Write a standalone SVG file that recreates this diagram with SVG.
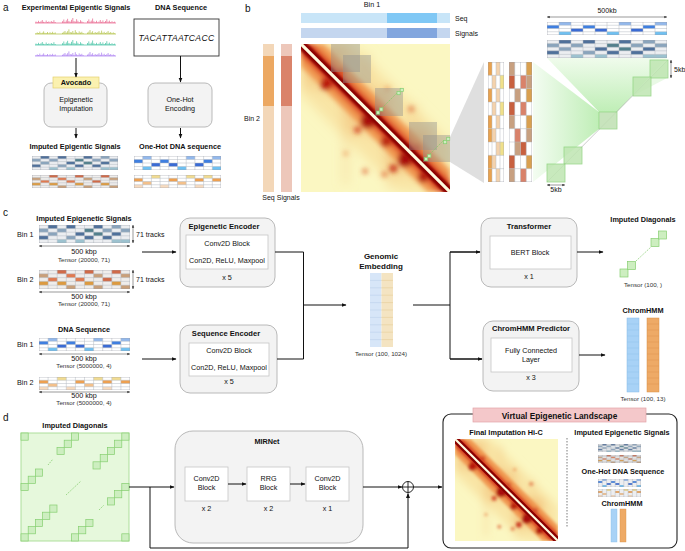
<svg xmlns="http://www.w3.org/2000/svg" width="685" height="551" viewBox="0 0 685 551">
<style>
text{font-family:"Liberation Sans",Arial,sans-serif;fill:#111}
.t{font-size:7.3px;font-weight:bold;text-anchor:middle}
.bt{font-size:7.6px;font-weight:bold;text-anchor:middle}
.r{font-size:7.2px;text-anchor:middle}
.s{font-size:6.2px;text-anchor:middle;fill:#333}
.lab{font-size:10px}
.box{fill:#f3f3f3;stroke:#a8a8a8;stroke-width:0.8}
.inb{fill:#fff;stroke:#c6c6c6;stroke-width:0.8}
.ln{fill:none;stroke:#111;stroke-width:1}
.ar{fill:none;stroke:#111;stroke-width:1;marker-end:url(#ah)}
.gsq{fill:#cdeec0;stroke:#86cf70;stroke-width:0.7}
.dim{fill:none;stroke:#333;stroke-width:0.5;marker-start:url(#dh);marker-end:url(#dh)}
.gd{fill:none;stroke:#7cc864;stroke-width:0.7;stroke-dasharray:1.5 1}
.ov{fill:#8e8e8e;opacity:0.42}
.gl{fill:none;stroke:#b4bac2;stroke-width:0.5}
.sig{fill:none;stroke-width:0.7}
</style>
<defs>
<marker id="ah" viewBox="0 0 10 10" refX="9" refY="5" markerWidth="5" markerHeight="5" orient="auto"><path d="M0,1 L10,5 L0,9 z" fill="#111"/></marker>
<marker id="dh" viewBox="0 0 10 10" refX="9" refY="5" markerWidth="6" markerHeight="6" orient="auto-start-reverse"><path d="M0,1 L10,5 L0,9 z" fill="#333"/></marker>
<filter id="bl" x="-20%" y="-20%" width="140%" height="140%"><feGaussianBlur stdDeviation="1.8"/></filter>
<filter id="bl3" x="-20%" y="-20%" width="140%" height="140%"><feGaussianBlur stdDeviation="4"/></filter>
<filter id="bl2" x="-10%" y="-10%" width="120%" height="120%"><feGaussianBlur stdDeviation="0.6"/></filter>
<clipPath id="hc"><rect width="100" height="100"/></clipPath>
<linearGradient id="gt" x1="0" y1="0" x2="0" y2="1"><stop offset="0" stop-color="#eefbea"/><stop offset="1" stop-color="#b8ecae"/></linearGradient>
<linearGradient id="gle" x1="0" y1="0" x2="1" y2="0"><stop offset="0" stop-color="#f2fcf0"/><stop offset="1" stop-color="#b8ecae"/></linearGradient>
<symbol id="hic" viewBox="0 0 100 100" preserveAspectRatio="none">
<g clip-path="url(#hc)">
<rect width="100" height="100" fill="#fbf7c2"/>
<g filter="url(#bl3)">
<polygon points="0,0 34,0 100,66 100,100 66,100 0,34" fill="#f8e2a0" opacity="0.85"/>
<rect x="0" y="0" width="30" height="30" fill="#f3c07a" opacity="0.5"/>
<rect x="30" y="30" width="30" height="30" fill="#f3c07a" opacity="0.5"/>
<rect x="58" y="58" width="28" height="28" fill="#f0b068" opacity="0.55"/>
<path d="M30,30V95M60,60V98M44,6V44M76,40V76M12,30H30M60,84H88" stroke="#f0b870" stroke-width="2.2" opacity="0.55"/>
</g>
<g filter="url(#bl)">
<polygon points="0,0 15,0 100,85 100,100 85,100 0,15" fill="#f09048" opacity="0.9"/>
<polygon points="0,0 8,0 100,92 100,100 92,100 0,8" fill="#d84020"/>
<circle cx="17" cy="27" r="4" fill="#b81808"/>
<circle cx="27" cy="19" r="2.5" fill="#d04020" opacity="0.8"/>
<circle cx="45" cy="52" r="5" fill="#a81008"/>
<circle cx="52" cy="45" r="2.5" fill="#d04828" opacity="0.8"/>
<circle cx="38" cy="58" r="2.5" fill="#d03818" opacity="0.8"/>
<circle cx="57" cy="66" r="3.5" fill="#b82010"/>
<circle cx="70" cy="78" r="5" fill="#a81008"/>
<circle cx="78" cy="70" r="2.5" fill="#d04828" opacity="0.8"/>
<circle cx="62" cy="84" r="2.8" fill="#c83018" opacity="0.9"/>
<circle cx="82" cy="90" r="3.5" fill="#b01808"/>
<circle cx="74" cy="44" r="2.2" fill="#e07040" opacity="0.7"/>
<circle cx="43" cy="86" r="2" fill="#e06838" opacity="0.75"/>
<circle cx="56" cy="88" r="2" fill="#e06838" opacity="0.75"/>
<circle cx="58" cy="30" r="1.8" fill="#eb9050" opacity="0.6"/>
<circle cx="30" cy="74" r="1.8" fill="#eb9050" opacity="0.6"/>
</g>
<g filter="url(#bl2)"><line x1="-2" y1="-2" x2="102" y2="102" stroke="#8a0606" stroke-width="6.5"/></g>
<line x1="-2" y1="-2" x2="102" y2="102" stroke="#fffbe0" stroke-width="2.1"/>
</g>
</symbol>
<symbol id="epiB" viewBox="0 0 100 25" preserveAspectRatio="none">
<rect width="100" height="25" fill="#eceef1"/>
<g fill="#4f709a"><rect x="10" y="0" width="10" height="5"/><rect x="30" y="0" width="10" height="5"/><rect x="60" y="0" width="10" height="5"/><rect x="40" y="10" width="10" height="5"/><rect x="80" y="10" width="10" height="5"/><rect x="0" y="15" width="10" height="5"/><rect x="50" y="15" width="10" height="5"/><rect x="70" y="15" width="10" height="5"/></g>
<g fill="#8aa4bc"><rect x="80" y="0" width="10" height="5"/><rect x="0" y="5" width="10" height="5"/><rect x="20" y="5" width="10" height="5"/><rect x="70" y="5" width="10" height="5"/><rect x="90" y="5" width="10" height="5"/><rect x="10" y="10" width="10" height="5"/><rect x="30" y="15" width="10" height="5"/></g>
<g fill="#527f8c"><rect x="50" y="5" width="10" height="5"/><rect x="60" y="10" width="10" height="5"/></g>
<g fill="#9cc2cf"><rect x="20" y="20" width="10" height="5"/><rect x="40" y="20" width="10" height="5"/><rect x="80" y="20" width="10" height="5"/><rect x="90" y="20" width="10" height="5"/></g>
<path class="gl" vector-effect="non-scaling-stroke" d="M10,0V25M20,0V25M30,0V25M40,0V25M50,0V25M60,0V25M70,0V25M80,0V25M90,0V25M0,5H100M0,10H100M0,15H100M0,20H100"/>
<rect width="100" height="25" fill="none" stroke="#9aa0a8" stroke-width="0.6" vector-effect="non-scaling-stroke"/>
</symbol>
<symbol id="epiO" viewBox="0 0 100 25" preserveAspectRatio="none">
<rect width="100" height="25" fill="#efedeb"/>
<g fill="#d06a48"><rect x="20" y="0" width="10" height="5"/><rect x="50" y="0" width="10" height="5"/><rect x="80" y="0" width="10" height="5"/><rect x="70" y="10" width="10" height="5"/></g>
<g fill="#c9a07a"><rect x="0" y="5" width="10" height="5"/><rect x="60" y="5" width="10" height="5"/><rect x="90" y="5" width="10" height="5"/><rect x="30" y="20" width="10" height="5"/><rect x="60" y="20" width="10" height="5"/><rect x="90" y="20" width="10" height="5"/></g>
<g fill="#e07a50"><rect x="30" y="5" width="10" height="5"/><rect x="10" y="10" width="10" height="5"/><rect x="40" y="10" width="10" height="5"/></g>
<g fill="#dc9a40"><rect x="0" y="15" width="10" height="5"/><rect x="20" y="15" width="10" height="5"/><rect x="50" y="15" width="10" height="5"/><rect x="80" y="15" width="10" height="5"/></g>
<path class="gl" vector-effect="non-scaling-stroke" d="M10,0V25M20,0V25M30,0V25M40,0V25M50,0V25M60,0V25M70,0V25M80,0V25M90,0V25M0,5H100M0,10H100M0,15H100M0,20H100"/>
<rect width="100" height="25" fill="none" stroke="#9aa0a8" stroke-width="0.6" vector-effect="non-scaling-stroke"/>
</symbol>
<symbol id="dnaB" viewBox="0 0 100 20" preserveAspectRatio="none">
<rect width="100" height="20" fill="#ffffff"/>
<g fill="#92b8ec"><rect x="10" y="0" width="10" height="5"/><rect x="60" y="0" width="10" height="5"/><rect x="90" y="0" width="10" height="5"/></g>
<g fill="#3f7fe0"><rect x="0" y="5" width="10" height="5"/><rect x="30" y="5" width="10" height="5"/><rect x="80" y="5" width="10" height="5"/></g>
<g fill="#3a6bd4"><rect x="20" y="10" width="10" height="5"/><rect x="40" y="10" width="10" height="5"/><rect x="70" y="10" width="10" height="5"/></g>
<g fill="#6ec0f2"><rect x="10" y="15" width="10" height="5"/><rect x="50" y="15" width="10" height="5"/><rect x="90" y="15" width="10" height="5"/></g>
<path class="gl" vector-effect="non-scaling-stroke" d="M10,0V20M20,0V20M30,0V20M40,0V20M50,0V20M60,0V20M70,0V20M80,0V20M90,0V20M0,5H100M0,10H100M0,15H100"/>
<rect width="100" height="20" fill="none" stroke="#9aa0a8" stroke-width="0.6" vector-effect="non-scaling-stroke"/>
</symbol>
<symbol id="dnaO" viewBox="0 0 100 20" preserveAspectRatio="none">
<rect width="100" height="20" fill="#ffffff"/>
<g fill="#f2dc90"><rect x="20" y="0" width="10" height="5"/><rect x="60" y="0" width="10" height="5"/><rect x="80" y="0" width="10" height="5"/></g>
<g fill="#eea050"><rect x="0" y="5" width="10" height="5"/><rect x="40" y="5" width="10" height="5"/><rect x="70" y="5" width="10" height="5"/><rect x="90" y="5" width="10" height="5"/></g>
<g fill="#f3c08a"><rect x="10" y="10" width="10" height="5"/><rect x="50" y="10" width="10" height="5"/></g>
<g fill="#f8dcc0"><rect x="0" y="15" width="10" height="5"/><rect x="30" y="15" width="10" height="5"/><rect x="70" y="15" width="10" height="5"/></g>
<path class="gl" vector-effect="non-scaling-stroke" d="M10,0V20M20,0V20M30,0V20M40,0V20M50,0V20M60,0V20M70,0V20M80,0V20M90,0V20M0,5H100M0,10H100M0,15H100"/>
<rect width="100" height="20" fill="none" stroke="#9aa0a8" stroke-width="0.6" vector-effect="non-scaling-stroke"/>
</symbol>
<symbol id="stA" viewBox="0 0 40 90" preserveAspectRatio="none">
<rect width="40" height="90" fill="#fff"/>
<g fill="#e9a24e"><rect x="0" y="0" width="10" height="10"/><rect x="0" y="20" width="10" height="10"/><rect x="0" y="40" width="10" height="10"/><rect x="0" y="50" width="10" height="10"/><rect x="0" y="70" width="10" height="10"/><rect x="0" y="80" width="10" height="10"/></g>
<g fill="#f4d2ac"><rect x="20" y="0" width="10" height="10"/><rect x="10" y="10" width="10" height="10"/><rect x="20" y="20" width="10" height="10"/><rect x="10" y="30" width="10" height="10"/><rect x="20" y="40" width="10" height="10"/><rect x="10" y="50" width="10" height="10"/><rect x="20" y="60" width="10" height="10"/><rect x="10" y="70" width="10" height="10"/><rect x="20" y="80" width="10" height="10"/></g>
<g fill="#f0e08a"><rect x="30" y="10" width="10" height="10"/><rect x="30" y="30" width="10" height="10"/><rect x="30" y="60" width="10" height="10"/></g>
<path class="gl" vector-effect="non-scaling-stroke" d="M10,0V90M20,0V90M30,0V90M0,10H40M0,20H40M0,30H40M0,40H40M0,50H40M0,60H40M0,70H40M0,80H40"/>
<rect width="40" height="90" fill="none" stroke="#9aa0a8" stroke-width="0.6" vector-effect="non-scaling-stroke"/>
</symbol>
<symbol id="stB" viewBox="0 0 40 90" preserveAspectRatio="none">
<rect width="40" height="90" fill="#fff"/>
<g fill="#c8a080"><rect x="0" y="0" width="10" height="10"/><rect x="30" y="10" width="10" height="10"/><rect x="10" y="20" width="10" height="10"/><rect x="0" y="40" width="10" height="10"/><rect x="30" y="50" width="10" height="10"/><rect x="10" y="60" width="10" height="10"/><rect x="0" y="80" width="10" height="10"/></g>
<g fill="#c8603f"><rect x="0" y="10" width="10" height="10"/><rect x="0" y="30" width="10" height="10"/><rect x="20" y="60" width="10" height="10"/><rect x="0" y="70" width="10" height="10"/></g>
<g fill="#d9826a"><rect x="20" y="10" width="10" height="10"/><rect x="20" y="30" width="10" height="10"/><rect x="10" y="50" width="10" height="10"/><rect x="20" y="80" width="10" height="10"/></g>
<g fill="#d9a050"><rect x="30" y="0" width="10" height="10"/><rect x="30" y="20" width="10" height="10"/><rect x="30" y="40" width="10" height="10"/><rect x="30" y="70" width="10" height="10"/></g>
<path class="gl" vector-effect="non-scaling-stroke" d="M10,0V90M20,0V90M30,0V90M0,10H40M0,20H40M0,30H40M0,40H40M0,50H40M0,60H40M0,70H40M0,80H40"/>
<rect width="40" height="90" fill="none" stroke="#9aa0a8" stroke-width="0.6" vector-effect="non-scaling-stroke"/>
</symbol>
<path id="sp1" d="M0,0H81M1,0v-1.5M2.3,0v-0.8M3.5,0v-2.2M4.8,0v-1M6,0v-1.8M7.3,0v-3M8.6,0v-1.2M9.9,0v-0.7M11.2,0v-2.5M12.5,0v-1M13.8,0v-1.6M15,0v-0.6M16.3,0v-2M17.6,0v-1.1M18.9,0v-2.8M20.2,0v-1M27.5,0v-1.8M28.8,0v-3.5M30,0v-1.2M31.3,0v-2.6M32.6,0v-4.2M33.9,0v-2M35.2,0v-1.4M36.5,0v-3.2M37.8,0v-5M39,0v-2M40.3,0v-1.5M41.6,0v-3.8M42.9,0v-2.2M44.2,0v-1M45.5,0v-2.8M46.8,0v-1.6M48.1,0v-0.8M52.5,0v-2M53.8,0v-3.6M55,0v-1.4M56.3,0v-2.4M57.6,0v-4.5M58.9,0v-1.8M60.2,0v-1M61.5,0v-2.2M62.8,0v-0.8M64,0v-1.5M65.3,0v-3M66.6,0v-1.2M67.9,0v-2.6M69.2,0v-1M70.5,0v-2M71.8,0v-3.8M73.1,0v-1.4M74.4,0v-2.4M75.7,0v-1M77,0v-1.8M78.3,0v-0.9M79.6,0v-1.4"/>
<path id="sp2" d="M0,0H81M1,0v-0.8M2.3,0v-1.6M3.5,0v-1M4.8,0v-2.4M6,0v-0.8M7.3,0v-1.4M8.6,0v-2.6M9.9,0v-1.2M11.2,0v-1M12.5,0v-2M13.8,0v-0.7M15,0v-1.8M16.3,0v-1.1M17.6,0v-2.2M18.9,0v-1M20.2,0v-1.6M27.5,0v-1.2M28.8,0v-2.2M30,0v-3M31.3,0v-1.5M32.6,0v-2.8M33.9,0v-4.6M35.2,0v-2M36.5,0v-1.6M37.8,0v-3M39,0v-1.2M40.3,0v-3.8M41.6,0v-1.8M42.9,0v-1M44.2,0v-2.6M45.5,0v-1.4M46.8,0v-2.2M48.1,0v-1M52.5,0v-1.4M53.8,0v-2.4M55,0v-4M56.3,0v-1.6M57.6,0v-2.8M58.9,0v-1M60.2,0v-2M61.5,0v-1.2M62.8,0v-1.8M64,0v-2.8M65.3,0v-1.2M66.6,0v-3.4M67.9,0v-1.4M69.2,0v-2.2M70.5,0v-1M71.8,0v-1.8M73.1,0v-3M74.4,0v-1.2M75.7,0v-2M77,0v-1M78.3,0v-1.6M79.6,0v-0.8"/>
</defs>

<!-- ================= Panel a ================= -->
<g id="panel-a">
<text x="3" y="11" class="lab">a</text>
<text x="76" y="10" class="t">Experimental Epigentic Signals</text>
<g id="tracks">
<use href="#sp1" x="35" y="23" class="sig" stroke="#e8608a"/>
<use href="#sp2" x="35" y="34" class="sig" stroke="#b0c040"/>
<use href="#sp1" x="35" y="45" class="sig" stroke="#3cc0a0"/>
<use href="#sp2" x="35" y="56" class="sig" stroke="#a878f0"/>
</g>
<g id="epi-imputation">
<rect x="44" y="83" width="63" height="44" rx="7" class="box"/>
<text x="76" y="102" class="r">Epigenetic</text>
<text x="76" y="111" class="r">Imputation</text>
</g>
<g id="avocado">
<rect x="53" y="77" width="46" height="11" fill="#fbf1b0" stroke="#e6d070" stroke-width="0.7"/>
<text x="76" y="85" class="t">Avocado</text>
</g>
<text x="75" y="149" class="t">Imputed Epigentic Signals</text>
<use href="#epiB" x="32" y="156" width="86" height="14"/>
<use href="#epiO" x="32" y="175" width="86" height="13"/>

<text x="181" y="10" class="t">DNA Sequence</text>
<g id="dna-seq">
<rect x="134" y="19" width="85" height="37" fill="#fff" stroke="#333" stroke-width="0.9"/>
<text x="176.5" y="41" style="font-size:8.6px;font-style:italic;text-anchor:middle;letter-spacing:0.3px">TACATTAATCACC</text>
</g>
<g id="onehot-encoding">
<rect x="148" y="83" width="64" height="44" rx="7" class="box"/>
<text x="180" y="102" class="r">One-Hot</text>
<text x="180" y="111" class="r">Encoding</text>
</g>
<text x="180" y="149" class="t">One-Hot DNA sequence</text>
<use href="#dnaB" x="134" y="156" width="87" height="14"/>
<use href="#dnaO" x="134" y="175" width="87" height="13"/>
</g>
<g id="connectors-a">
<line x1="76" y1="58" x2="76" y2="77" class="ar"/>
<line x1="76" y1="128" x2="76" y2="138" class="ar"/>
<line x1="180.5" y1="56" x2="180.5" y2="82" class="ar"/>
<line x1="180.5" y1="128" x2="180.5" y2="138" class="ar"/>
</g>

<!-- ================= Panel b ================= -->
<g id="panel-b">
<text x="245" y="12" class="lab">b</text>
<text x="372" y="7" class="r">Bin 1</text>
<rect x="301" y="13" width="149" height="10" fill="#c8e5f8"/>
<rect x="387" y="13" width="50" height="10" fill="#80c8f5"/>
<rect x="301" y="28" width="149" height="10" fill="#c4d6ef"/>
<rect x="387" y="28" width="50" height="10" fill="#82a6de"/>
<text x="455" y="21" style="font-size:7px">Seq</text>
<text x="455" y="36" style="font-size:7px">Signals</text>
<rect x="263" y="44" width="11" height="148" fill="#f3d7b8"/>
<rect x="263" y="56" width="11" height="50" fill="#eca862"/>
<rect x="281" y="44" width="11" height="148" fill="#edc7ba"/>
<rect x="281" y="56" width="11" height="50" fill="#da836a"/>
<text x="244" y="121" style="font-size:7px">Bin 2</text>
<text x="281" y="200" class="r" style="font-size:7px">Seq Signals</text>
<use href="#hic" x="301" y="44" width="149" height="148"/>
<rect x="331" y="44" width="29" height="28" class="ov"/>
<rect x="343" y="55" width="28" height="28" class="ov"/>
<rect x="375" y="88" width="28" height="28" class="ov"/>
<rect x="409" y="122" width="28" height="28" class="ov"/>
<rect x="423" y="135" width="27" height="27" class="ov"/>
<line x1="382" y1="108" x2="398" y2="92" class="gd"/>
<rect x="376.5" y="111" width="3.2" height="3.2" class="gsq"/>
<rect x="379.7" y="107.8" width="3.2" height="3.2" class="gsq"/>
<rect x="397" y="91.5" width="3.2" height="3.2" class="gsq"/>
<rect x="400.2" y="88.3" width="3.2" height="3.2" class="gsq"/>
<line x1="430" y1="154" x2="444" y2="140" class="gd"/>
<rect x="424.5" y="157.5" width="3.2" height="3.2" class="gsq"/>
<rect x="427.7" y="154.3" width="3.2" height="3.2" class="gsq"/>
<rect x="443.5" y="140.5" width="3.2" height="3.2" class="gsq"/>
<rect x="446.7" y="137.3" width="3.2" height="3.2" class="gsq"/>
<polygon points="450,137 484,62 484,183 450,162" fill="#d4d4d4" opacity="0.75"/>

<polygon points="547,58 667,58 617,112 599,112" fill="url(#gt)" opacity="0.9"/>
<polygon points="533,62 599,112 599,129 533,182" fill="url(#gle)" opacity="0.9"/>
<polygon points="617,112 667,60 667,78 633,96" fill="#e4f8de" opacity="0.8"/>
<use href="#stA" x="488" y="62" width="16" height="120"/>
<use href="#stB" x="509" y="62" width="23" height="120"/>
<line x1="547" y1="182" x2="668" y2="60" stroke="#a8a8a8" stroke-width="0.6"/>
<rect x="650" y="60" width="18" height="18" fill="#bfe6b2" stroke="#8cd27a" stroke-width="0.8" opacity="0.85"/>
<rect x="633" y="77" width="18" height="19" fill="#bfe6b2" stroke="#8cd27a" stroke-width="0.8" opacity="0.85"/>
<rect x="599" y="112" width="18" height="17" fill="#bfe0b2" stroke="#8cd27a" stroke-width="0.8" opacity="0.85"/>
<rect x="564" y="147" width="18" height="17" fill="#bfe6b2" stroke="#8cd27a" stroke-width="0.8" opacity="0.85"/>
<rect x="547" y="164" width="18" height="18" fill="#bfe6b2" stroke="#8cd27a" stroke-width="0.8" opacity="0.85"/>
<use href="#dnaB" x="547" y="22" width="120" height="13"/>
<use href="#epiB" x="547" y="40" width="120" height="18"/>
<line x1="547" y1="17" x2="667" y2="17" class="dim"/>
<text x="607" y="13" class="r" style="font-size:7px">500kb</text>
<line x1="671" y1="60" x2="671" y2="78" class="dim"/>
<text x="674" y="72" style="font-size:7px">5kb</text>
<line x1="547" y1="185" x2="565" y2="185" class="dim"/>
<text x="556" y="192" class="r" style="font-size:7px">5kb</text>
</g>

<!-- ================= Panel c ================= -->
<g id="panel-c">
<text x="3" y="216" class="lab">c</text>
<text x="84" y="221" class="t">Imputed Epigenetic Signals</text>
<text x="17" y="237" style="font-size:7.2px">Bin 1</text>
<use href="#epiB" x="39" y="225" width="91" height="18"/>
<line x1="133" y1="225" x2="133" y2="243" class="dim"/>
<text x="136" y="237" style="font-size:7px">71 tracks</text>
<line x1="39" y1="246" x2="130" y2="246" class="dim"/>
<text x="84" y="254" class="r">500 kbp</text>
<text x="84" y="262" class="s">Tensor (20000, 71)</text>
<text x="17" y="282" style="font-size:7.2px">Bin 2</text>
<use href="#epiO" x="39" y="270" width="91" height="19"/>
<line x1="133" y1="270" x2="133" y2="289" class="dim"/>
<text x="136" y="282" style="font-size:7px">71 tracks</text>
<line x1="39" y1="292" x2="130" y2="292" class="dim"/>
<text x="84" y="299" class="r">500 kbp</text>
<text x="84" y="306" class="s">Tensor (20000, 71)</text>

<text x="84" y="332" class="t">DNA Sequence</text>
<text x="17" y="347" style="font-size:7.2px">Bin 1</text>
<use href="#dnaB" x="39" y="338" width="91" height="13"/>
<line x1="39" y1="354" x2="130" y2="354" class="dim"/>
<text x="84" y="361" class="r">500 kbp</text>
<text x="84" y="368" class="s">Tensor (5000000, 4)</text>
<text x="17" y="385" style="font-size:7.2px">Bin 2</text>
<use href="#dnaO" x="39" y="377" width="91" height="13"/>
<line x1="39" y1="392" x2="130" y2="392" class="dim"/>
<text x="84" y="398" class="r">500 kbp</text>
<text x="84" y="405" class="s">Tensor (5000000, 4)</text>
</g>
<g id="epi-encoder">
<rect x="180" y="218" width="95" height="69" rx="10" class="box"/>
<text x="224" y="229" class="bt">Epigenetic Encoder</text>
<rect x="186" y="235" width="82" height="34" class="inb"/>
<text x="227" y="246" class="r">Conv2D Block</text>
<text x="227" y="263" class="r">Con2D, ReLU, Maxpool</text>
<text x="227" y="280" class="r">x 5</text>
</g>
<g id="seq-encoder">
<rect x="180" y="325" width="97" height="68" rx="10" class="box"/>
<text x="226" y="336" class="bt">Sequence Encoder</text>
<rect x="189" y="343" width="80" height="33" class="inb"/>
<text x="229" y="353" class="r">Conv2D Block</text>
<text x="229" y="370" class="r">Con2D, ReLU, Maxpool</text>
<text x="229" y="384" class="r">x 5</text>
</g>
<g id="genomic-embedding">
<text x="381" y="259" class="bt" style="font-size:8px">Genomic</text>
<text x="381" y="269" class="bt" style="font-size:8px">Embedding</text>
<rect x="370" y="273" width="11.5" height="74" fill="#d7e6f8"/>
<rect x="381.5" y="273" width="11.5" height="74" fill="#f4e4c2"/>
<path d="M370,280.4H381.5M370,287.8H381.5M370,295.2H381.5M370,302.6H381.5M370,310H381.5M370,317.4H381.5M370,324.8H381.5M370,332.2H381.5M370,339.6H381.5" stroke="#b6cce8" stroke-width="0.5"/>
<path d="M381.5,280.4H393M381.5,287.8H393M381.5,295.2H393M381.5,302.6H393M381.5,310H393M381.5,317.4H393M381.5,324.8H393M381.5,332.2H393M381.5,339.6H393" stroke="#e2c890" stroke-width="0.5"/>
<text x="381" y="356" class="s">Tensor (100, 1024)</text>
</g>
<g id="transformer">
<rect x="481" y="218" width="96" height="69" rx="10" class="box"/>
<text x="529" y="229" class="bt">Transformer</text>
<rect x="490" y="236" width="81" height="33" class="inb"/>
<text x="530" y="255" class="r">BERT Block</text>
<text x="529" y="279" class="r">x 1</text>
</g>
<g id="chromhmm-predictor">
<rect x="483" y="321" width="96" height="70" rx="10" class="box"/>
<text x="531" y="331" class="bt">ChromHMM Predictor</text>
<rect x="491" y="338" width="81" height="34" class="inb"/>
<text x="531" y="353" class="r">Fully Connected</text>
<text x="531" y="362" class="r">Layer</text>
<text x="531" y="380" class="r">x 3</text>
</g>
<g id="imputed-diagonals-c">
<text x="643" y="222" class="t">Imputed Diagonals</text>
<line x1="636" y1="261" x2="651" y2="247" class="gd"/>
<rect x="620" y="269" width="8" height="8" class="gsq"/>
<rect x="627.5" y="261.5" width="8" height="8" class="gsq"/>
<rect x="651" y="238.5" width="8" height="8" class="gsq"/>
<rect x="658.5" y="231" width="8" height="8" class="gsq"/>
<text x="643" y="287" class="s">Tensor (100, )</text>
</g>
<g id="chromhmm-c">
<text x="643" y="313" class="t">ChromHMM</text>
<rect x="627" y="318" width="12" height="74" fill="#a8d2f6" stroke="#88bde8" stroke-width="0.5"/>
<rect x="647" y="318" width="12" height="74" fill="#eeaa66" stroke="#d89048" stroke-width="0.5"/>
<path d="M627,324H639M627,330H639M627,336H639M627,342H639M627,348H639M627,354H639M627,360H639M627,366H639M627,372H639M627,378H639M627,384H639" stroke="#8cc0ea" stroke-width="0.4"/>
<path d="M647,324H659M647,330H659M647,336H659M647,342H659M647,348H659M647,354H659M647,360H659M647,366H659M647,372H659M647,378H659M647,384H659" stroke="#d89048" stroke-width="0.4"/>
<text x="643" y="401" class="s">Tensor (100, 13)</text>
</g>
<g id="connectors-c">
<line x1="142" y1="252" x2="176" y2="252" class="ar"/>
<line x1="142" y1="359" x2="176" y2="359" class="ar"/>
<polyline points="275,252 303.5,252 303.5,359 277,359" class="ln"/>
<line x1="303.5" y1="305" x2="346" y2="305" class="ar"/>
<line x1="413" y1="305" x2="450" y2="305" class="ln"/>
<polyline points="480,252 450,252 450,359 482,359" class="ln"/>
<line x1="450" y1="252" x2="480" y2="252" class="ar"/>
<line x1="450" y1="359" x2="482" y2="359" class="ar"/>
<line x1="577" y1="252" x2="603" y2="252" class="ar"/>
<line x1="579" y1="355" x2="605" y2="355" class="ar"/>
</g>

<!-- ================= Panel d ================= -->
<g id="panel-d">
<text x="3" y="421" class="lab">d</text>
</g>
<g id="imputed-diagonals-d">
<text x="75" y="428" class="t">Imputed Diagonals</text>
<rect x="21" y="433" width="108" height="108" fill="#e6f8dc" stroke="#a6dc92" stroke-width="0.9"/>
<g>
<rect x="21" y="433" width="7.2" height="7.2" class="gsq"/>
<rect x="71.4" y="433" width="7.2" height="7.2" class="gsq"/>
<rect x="64.2" y="440.2" width="7.2" height="7.2" class="gsq"/>
<rect x="57" y="447.4" width="7.2" height="7.2" class="gsq"/>
<rect x="121.8" y="433" width="7.2" height="7.2" class="gsq"/>
<rect x="114.6" y="440.2" width="7.2" height="7.2" class="gsq"/>
<rect x="107.4" y="447.4" width="7.2" height="7.2" class="gsq"/>
<rect x="100.2" y="454.6" width="7.2" height="7.2" class="gsq"/>
<rect x="93" y="461.8" width="7.2" height="7.2" class="gsq"/>
<rect x="35.4" y="469" width="7.2" height="7.2" class="gsq"/>
<rect x="28.2" y="476.2" width="7.2" height="7.2" class="gsq"/>
<rect x="21" y="483.4" width="7.2" height="7.2" class="gsq"/>
<rect x="121.8" y="483.4" width="7.2" height="7.2" class="gsq"/>
<rect x="114.6" y="490.6" width="7.2" height="7.2" class="gsq"/>
<rect x="107.4" y="497.8" width="7.2" height="7.2" class="gsq"/>
<rect x="49.8" y="505" width="7.2" height="7.2" class="gsq"/>
<rect x="42.6" y="512.2" width="7.2" height="7.2" class="gsq"/>
<rect x="35.4" y="519.4" width="7.2" height="7.2" class="gsq"/>
<rect x="28.2" y="526.6" width="7.2" height="7.2" class="gsq"/>
<rect x="21" y="533.8" width="7.2" height="7.2" class="gsq"/>
<rect x="85.8" y="519.4" width="7.2" height="7.2" class="gsq"/>
<rect x="78.6" y="526.6" width="7.2" height="7.2" class="gsq"/>
<rect x="71.4" y="533.8" width="7.2" height="7.2" class="gsq"/>
<rect x="121.8" y="533.8" width="7.2" height="7.2" class="gsq"/>
</g>
<line x1="48" y1="465" x2="53" y2="459" class="gd"/>
<line x1="66" y1="495" x2="81" y2="481" class="gd"/>
<line x1="99" y1="510" x2="104" y2="505" class="gd"/>
</g>
<g id="mirnet">
<rect x="175" y="431" width="188" height="112" rx="18" class="box"/>
<text x="267" y="444" class="t">MIRNet</text>
<rect x="185" y="467" width="43" height="34" class="inb"/>
<text x="206.5" y="481" class="r">Conv2D</text>
<text x="206.5" y="490" class="r">Block</text>
<text x="206.5" y="511" class="r">x 2</text>
<rect x="247" y="467" width="43" height="34" class="inb"/>
<text x="268.5" y="481" class="r">RRG</text>
<text x="268.5" y="490" class="r">Block</text>
<text x="268.5" y="511" class="r">x 2</text>
<rect x="306" y="467" width="43" height="34" class="inb"/>
<text x="327.5" y="481" class="r">Conv2D</text>
<text x="327.5" y="490" class="r">Block</text>
<text x="327.5" y="511" class="r">x 1</text>
</g>
<g id="plus">
<circle cx="408" cy="487" r="5.5" fill="#fff" stroke="#111" stroke-width="0.9"/>
<path d="M402.5,487H413.5M408,481.5V492.5" stroke="#111" stroke-width="0.9"/>
</g>
<g id="virtual-landscape">
<rect x="443" y="414" width="234" height="134" rx="8" fill="#fff" stroke="#222" stroke-width="1.1"/>
<rect x="473" y="408" width="173" height="14" fill="#f4c8ca" stroke="#e2a4a8" stroke-width="0.7"/>
<text x="559.5" y="418.5" class="t" style="font-size:8.3px">Virtual Epigenetic Landscape</text>
<text x="506" y="435" class="t">Final Imputation Hi-C</text>
<use href="#hic" x="455" y="439" width="103" height="102"/>
<line x1="567" y1="438" x2="567" y2="527" stroke="#444" stroke-width="0.7" stroke-dasharray="1.5 1.5"/>
<text x="622" y="435" class="t">Imputed Epigenetic Signals</text>
<use href="#epiB" x="598" y="444" width="43" height="8"/>
<use href="#epiO" x="598" y="455" width="43" height="8"/>
<text x="623" y="474" class="t">One-Hot DNA Sequence</text>
<use href="#dnaB" x="598" y="479" width="43" height="8"/>
<use href="#dnaO" x="598" y="489" width="43" height="8"/>
<text x="622" y="506" class="t">ChromHMM</text>
<rect x="611" y="509" width="6" height="33" fill="#a8d2f6" stroke="#88bde8" stroke-width="0.4"/>
<rect x="620" y="509" width="6" height="33" fill="#eeaa66" stroke="#d89048" stroke-width="0.4"/>
</g>
<g id="connectors-d">
<line x1="129" y1="487" x2="174" y2="487" class="ar"/>
<polyline points="150,487 150,548 408,548 408,493.5" class="ar"/>
<line x1="228" y1="484" x2="246" y2="484" class="ar"/>
<line x1="290" y1="484" x2="305" y2="484" class="ar"/>
<line x1="363" y1="487" x2="402" y2="487" class="ar"/>
<line x1="413.5" y1="487" x2="442" y2="487" class="ar"/>
</g>
</svg>
